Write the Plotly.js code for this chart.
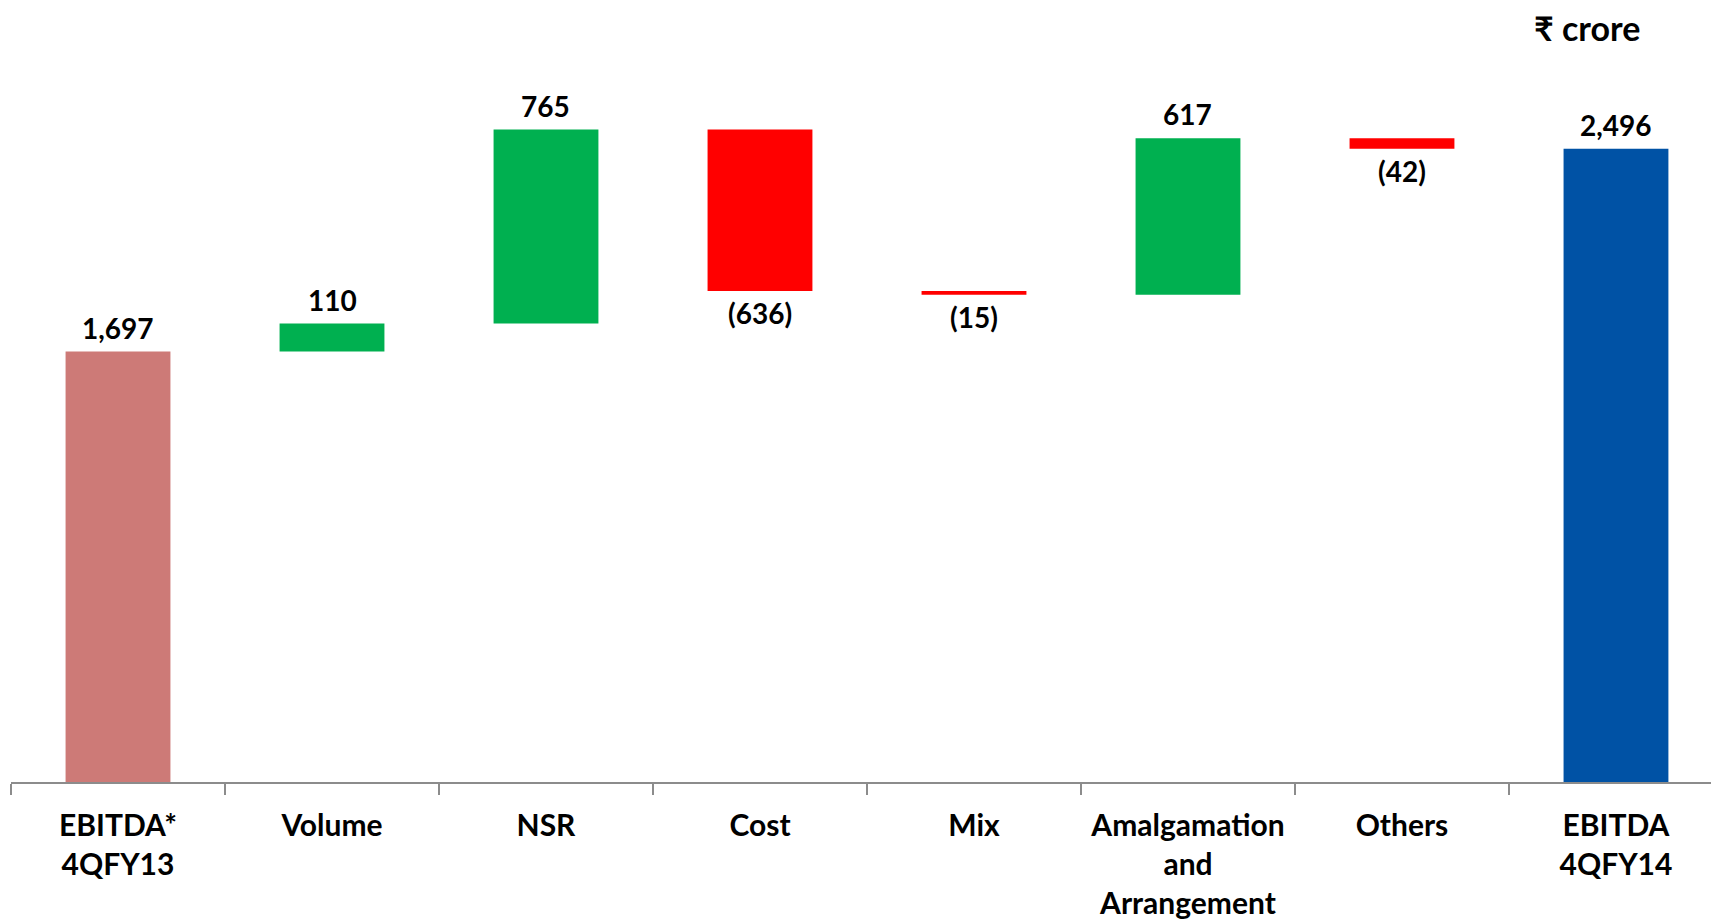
<!DOCTYPE html>
<html>
<head>
<meta charset="utf-8">
<script src="https://cdn.plot.ly/plotly-3.0.1.min.js"></script>
<style>
  html, body { margin: 0; padding: 0; background: #ffffff; }
  #chart { width: 1711px; height: 919px; }
</style>
</head>
<body>
<div id="chart"></div>
<script>
// EBITDA bridge, 4QFY13 to 4QFY14 (₹ crore)
const categories = [
  'EBITDA*<br>4QFY13',
  'Volume',
  'NSR',
  'Cost',
  'Mix',
  'Amalgamation<br>and<br>Arrangement',
  'Others',
  'EBITDA<br>4QFY14'
];
const values = [1697, 110, 765, -636, -15, 617, -42, 2496];
const measures = ['absolute', 'relative', 'relative', 'relative', 'relative', 'relative', 'relative', 'total'];

const COLOR_START = '#CD7A77';
const COLOR_UP = '#00B050';
const COLOR_DOWN = '#FF0000';
const COLOR_END = '#0052A5';
const FONT = 'Lato, "Noto Sans", "DejaVu Sans", sans-serif';

// Build floating bars: each change starts where the running total left off.
const bases = [];
const heights = [];
const colors = [];
let running = 0;
values.forEach((v, i) => {
  const m = measures[i];
  if (m === 'absolute') {
    bases.push(0); heights.push(v); running = v;
    colors.push(COLOR_START);
  } else if (m === 'total') {
    bases.push(0); heights.push(v); running = v;
    colors.push(COLOR_END);
  } else {
    bases.push(running); heights.push(v); running += v;
    colors.push(v >= 0 ? COLOR_UP : COLOR_DOWN);
  }
});

function fmt(v) {
  const s = Math.abs(v).toLocaleString('en-US');
  return v < 0 ? '(' + s + ')' : s;
}

// Value labels: above rising/total bars, below falling ones.
const valueLabels = values.map((v, i) => {
  const top = Math.max(bases[i], bases[i] + heights[i]);
  const bottom = Math.min(bases[i], bases[i] + heights[i]);
  const neg = measures[i] === 'relative' && v < 0;
  return {
    x: categories[i],
    y: neg ? bottom : top,
    xref: 'x', yref: 'y',
    text: fmt(v),
    showarrow: false,
    yanchor: 'middle',
    yshift: neg ? -22 : 24,
    font: { family: FONT, size: 28, color: '#000000', weight: 700 }
  };
});

const trace = {
  type: 'bar',
  x: categories,
  y: heights,
  base: bases,
  width: 0.49,
  marker: { color: colors, line: { width: 0 } },
  hoverinfo: 'skip'
};

const layout = {
  width: 1711,
  height: 919,
  margin: { l: 11, r: 0, t: 40, b: 137, pad: 0 },
  paper_bgcolor: '#ffffff',
  plot_bgcolor: '#ffffff',
  showlegend: false,
  font: { family: FONT, size: 28, color: '#000000', weight: 700 },
  xaxis: {
    type: 'category',
    range: [-0.5, 7.444],
    showline: true,
    linecolor: '#8c8c8c',
    linewidth: 2,
    ticks: 'outside',
    tickson: 'boundaries',
    ticklen: 11,
    tickwidth: 2,
    tickcolor: '#8c8c8c',
    ticklabelstandoff: 16,
    showgrid: false,
    zeroline: false,
    tickfont: { family: FONT, size: 30, color: '#000000', weight: 700 },
    fixedrange: true
  },
  yaxis: {
    range: [0, 2925],
    visible: false,
    showgrid: false,
    zeroline: false,
    fixedrange: true
  },
  annotations: valueLabels.concat([{
    xref: 'paper', yref: 'paper',
    x: 0.927, y: 1.0175,
    xanchor: 'center', yanchor: 'middle',
    text: '₹ crore',
    showarrow: false,
    font: { family: FONT, size: 34, color: '#000000', weight: 700 }
  }])
};

Plotly.newPlot('chart', [trace], layout, { displayModeBar: false, staticPlot: true });
</script>
</body>
</html>
